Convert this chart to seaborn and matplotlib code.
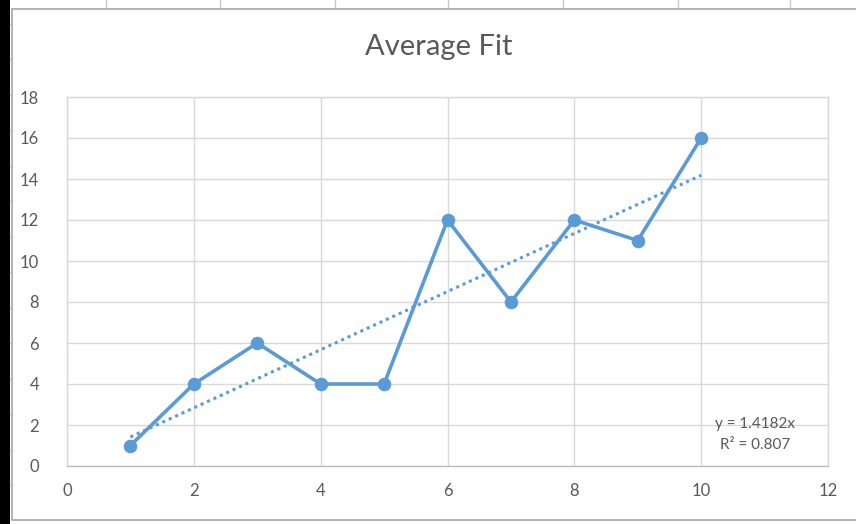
# plot.py
# Recreates the "Average Fit" Excel-style scatter chart with a linear trendline.

# Import numpy for the trendline calculation.
import numpy as np

# Import pandas for holding the data.
import pandas as pd

# Import matplotlib for figure handling.
import matplotlib.pyplot as plt

# Import patches and lines for the spreadsheet frame around the chart.
from matplotlib.patches import Rectangle
from matplotlib.lines import Line2D

# Import seaborn for the line plots.
import seaborn as sns

# Data.
x_values = [1, 2, 3, 4, 5, 6, 7, 8, 9, 10]
avg_values = [1, 4, 6, 4, 4, 12, 8, 12, 11, 16]

# Axis tick positions.
x_ticks = [0, 2, 4, 6, 8, 10, 12]
y_ticks = [0, 2, 4, 6, 8, 10, 12, 14, 16, 18]

# Trendline text as shown on the chart.
equation_text = "y = 1.4182x\nR² = 0.807"

# Build a DataFrame for seaborn.
df = pd.DataFrame({"x": x_values, "avg": avg_values})

# Fit a line through the origin (same as Excel's trendline with zero intercept).
slope = np.sum(df["x"] * df["avg"]) / np.sum(df["x"] ** 2)
trend_df = pd.DataFrame({"x": [min(x_values), max(x_values)]})
trend_df["y"] = slope * trend_df["x"]

# Set a plain white style.
sns.set_style("white")
plt.rcParams["font.family"] = ["Lato", "DejaVu Sans"]

# Colors used in the chart.
blue = "#5B9BD5"
grid_color = "#d9d9d9"
text_color = "#595959"

# Create the figure at 856x524 pixels.
fig = plt.figure(figsize=(8.56, 5.24), dpi=100)

# Draw the black strip on the left edge of the screenshot.
fig.patches.append(Rectangle((0, 0), 10 / 856, 1, transform=fig.transFigure,
                             facecolor="black", edgecolor="none", zorder=-2))

# Draw the chart frame.
fig.patches.append(Rectangle((12 / 856, 4 / 524), 1.0, 1 - 13 / 524, transform=fig.transFigure,
                             facecolor="white", edgecolor="#a6a6a6", linewidth=1.2, zorder=-1))

# Draw the spreadsheet column lines above the chart.
for px in [106, 220, 335, 448, 563, 678, 790]:
    fig.lines.append(Line2D([px / 856, px / 856], [1 - 9 / 524, 1], transform=fig.transFigure,
                            color="#c8c8c8", linewidth=1, zorder=-1))

# Draw the spreadsheet row marks on the left edge.
for py in np.arange(23.5, 520, 35.5):
    fig.lines.append(Line2D([10 / 856, 13 / 856], [1 - py / 524, 1 - py / 524],
                            transform=fig.transFigure, color="#c8c8c8", linewidth=1, zorder=-1))

# Add the plot area.
ax = fig.add_axes([67 / 856, 1 - 466 / 524, (828 - 67) / 856, (466 - 97) / 524])
ax.set_facecolor("none")
ax.set_zorder(1)

# Plot the trendline as a dotted line.
sns.lineplot(data=trend_df, x="x", y="y", ax=ax, color=blue, linestyle=(0, (1, 1.3)),
             linewidth=2.2, zorder=2)

# Plot the data series with circle markers.
sns.lineplot(data=df, x="x", y="avg", ax=ax, color=blue, linewidth=2.6, marker="o",
             markersize=9, markeredgecolor=blue, zorder=3)

# Set the axis limits and ticks.
ax.set_xlim(0, 12)
ax.set_ylim(0, 18)
ax.set_xticks(x_ticks)
ax.set_yticks(y_ticks)

# Style the gridlines.
ax.grid(True, color=grid_color, linewidth=1)
ax.set_axisbelow(True)

# Style the spines to look like the gridlines.
for side in ["top", "right", "left"]:
    ax.spines[side].set_color(grid_color)
    ax.spines[side].set_linewidth(1)
ax.spines["bottom"].set_color("#bfbfbf")
ax.spines["bottom"].set_linewidth(1)

# Style the tick labels.
ax.tick_params(axis="both", length=0, labelsize=12, labelcolor=text_color)
ax.tick_params(axis="x", pad=12)
ax.tick_params(axis="y", pad=20)

# Remove axis labels.
ax.set_xlabel("")
ax.set_ylabel("")

# Add the trendline equation text.
ax.text(10.85, 1.55, equation_text, ha="center", va="center", fontsize=11,
        color=text_color, linespacing=1.6)

# Add the chart title.
fig.text(439 / 856, 1 - 47 / 524, "Average Fit", ha="center", va="center",
         fontsize=21, color=text_color)

# Save the figure.
fig.savefig("out.png", dpi=100)

# Close the figure to free memory.
plt.close(fig)
